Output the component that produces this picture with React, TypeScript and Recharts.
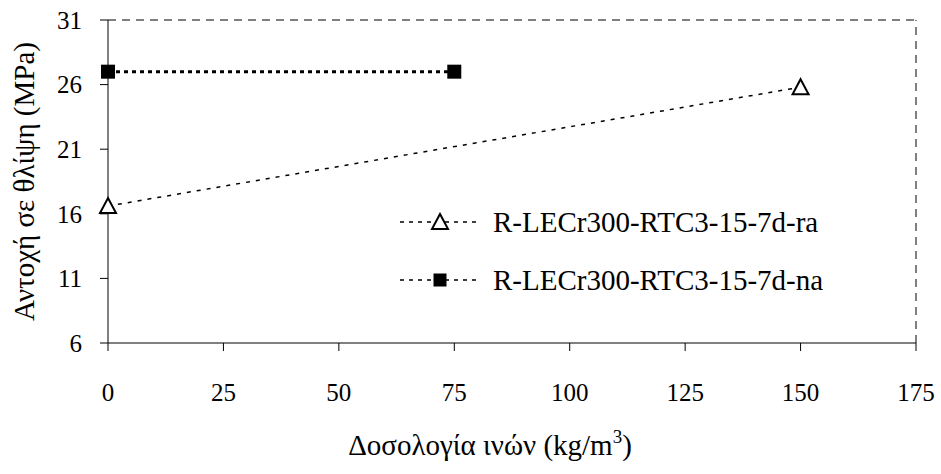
import { Line, LineChart, ReferenceLine, XAxis, YAxis } from 'recharts'

// dosage of fibres (kg/m3) vs compressive strength (MPa)
const raDosage = [0, 150]
const raStrength = [16.6, 25.8]
const naDosage = [0, 75]
const naStrength = [27, 27]
const xTicks = [0, 25, 50, 75, 100, 125, 150, 175]
const yTicks = [6, 11, 16, 21, 26, 31]
const raName = 'R-LECr300-RTC3-15-7d-ra'
const naName = 'R-LECr300-RTC3-15-7d-na'

const raData = raDosage.map((x, i) => ({ x, y: raStrength[i] }))
const naData = naDosage.map((x, i) => ({ x, y: naStrength[i] }))

const font = '"Liberation Serif", "Times New Roman", Tinos'
const tickStyle = { fontFamily: font, fontSize: 25, fill: '#000' }

const Triangle = ({ cx, cy }: { cx?: number; cy?: number }) =>
  cx == null || cy == null ? null : (
    <path
      d={`M${cx},${cy - 8} L${cx + 8},${cy + 7} L${cx - 8},${cy + 7} Z`}
      fill="#fff"
      stroke="#000"
      strokeWidth={2}
    />
  )

const Square = ({ cx, cy, size = 14 }: { cx?: number; cy?: number; size?: number }) =>
  cx == null || cy == null ? null : (
    <rect x={cx - size / 2} y={cy - size / 2} width={size} height={size} fill="#000" />
  )

const legendItems = [
  { name: raName, marker: 'tri' },
  { name: naName, marker: 'sq' },
]

function LegendBox() {
  return (
    <div style={{ position: 'absolute', left: 398, top: 193, fontFamily: font, fontSize: 29 }}>
      {legendItems.map((it) => (
        <div key={it.name} style={{ display: 'flex', alignItems: 'center', height: 58 }}>
          <svg width={95} height={20} style={{ flex: 'none' }}>
            <line x1={2} y1={10} x2={80} y2={10} stroke="#000" strokeWidth={1.5} strokeDasharray="4 5" />
            {it.marker === 'tri' ? <Triangle cx={42} cy={10} /> : <Square cx={42} cy={10} size={13} />}
          </svg>
          <span style={{ whiteSpace: 'nowrap' }}>{it.name}</span>
        </div>
      ))}
    </div>
  )
}

const XLabel = () => (
  <text x={490} y={455} textAnchor="middle" fontFamily={font} fontSize={29} fill="#000">
    Δοσολογία ινών (kg/m
    <tspan dy={-12} fontSize={19}>3</tspan>
    <tspan dy={12}>)</tspan>
  </text>
)

const YLabel = (props: any) => {
  const { viewBox } = props
  const cx = viewBox.x + 24
  const cy = viewBox.y + viewBox.height / 2
  return (
    <text
      x={cx}
      y={cy}
      transform={`rotate(-90 ${cx} ${cy})`}
      textAnchor="middle"
      dominantBaseline="central"
      fontFamily={font}
      fontSize={29}
      fill="#000"
    >
      Αντοχή σε θλίψη (MPa)
    </text>
  )
}

export default function App() {
  return (
    <div style={{ position: 'absolute', left: 0, top: 0, width: 941, height: 474, background: '#fff' }}>
      <LineChart width={941} height={474} margin={{ top: 20, right: 25, bottom: 0, left: 0 }}>
        <XAxis
          type="number"
          dataKey="x"
          domain={[0, 175]}
          ticks={xTicks}
          allowDuplicatedCategory={false}
          height={131}
          tickSize={8}
          tickMargin={32}
          tick={tickStyle}
          stroke="#000"
          label={<XLabel />}
        />
        <YAxis
          type="number"
          dataKey="y"
          domain={[6, 31]}
          ticks={yTicks}
          width={108}
          tickSize={8}
          tickMargin={18}
          tick={tickStyle}
          stroke="#000"
          label={<YLabel />}
        />
        <ReferenceLine y={31} stroke="#000" strokeDasharray="8 6" strokeWidth={1} />
        <ReferenceLine x={175} stroke="#000" strokeDasharray="8 6" strokeWidth={1} />
        <Line
          data={raData}
          dataKey="y"
          name={raName}
          stroke="#000"
          strokeWidth={1.5}
          strokeDasharray="4 6"
          dot={<Triangle />}
          isAnimationActive={false}
        />
        <Line
          data={naData}
          dataKey="y"
          name={naName}
          stroke="#000"
          strokeWidth={3}
          strokeDasharray="4 4"
          dot={<Square />}
          isAnimationActive={false}
        />
      </LineChart>
      <LegendBox />
    </div>
  )
}
